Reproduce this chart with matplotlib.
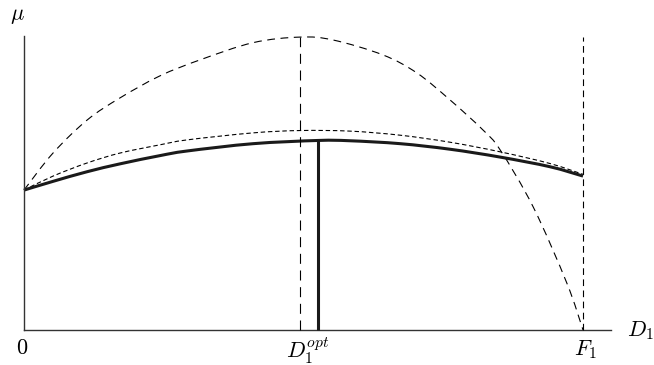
import matplotlib
matplotlib.use("Agg")
import matplotlib.pyplot as plt
from matplotlib.path import Path
from matplotlib.patches import PathPatch

plt.rcParams['mathtext.fontset'] = 'cm'
plt.rcParams['font.family'] = 'serif'
plt.rcParams['font.serif'] = ['DejaVu Serif']

# D1 measured in units of F1, mu normalised to the peak of the outer curve
d_outer = [0.0, 0.052, 0.113, 0.172, 0.243, 0.315, 0.410, 0.494, 0.553,
           0.642, 0.703, 0.762, 0.821, 0.852, 0.911, 0.971, 1.0]
mu_outer = [0.479, 0.606, 0.719, 0.795, 0.870, 0.925, 0.984, 1.003, 0.993,
            0.942, 0.880, 0.788, 0.685, 0.616, 0.421, 0.161, 0.0]

d_upper = [0.0, 0.052, 0.113, 0.172, 0.243, 0.292, 0.410, 0.494, 0.583,
           0.673, 0.762, 0.852, 0.941, 1.0]
mu_upper = [0.479, 0.527, 0.572, 0.606, 0.634, 0.651, 0.675, 0.683, 0.681,
            0.667, 0.643, 0.610, 0.570, 0.533]

d_mu = [0.0, 0.052, 0.113, 0.172, 0.243, 0.292, 0.410, 0.526, 0.583,
        0.673, 0.762, 0.852, 0.941, 1.0]
mu = [0.479, 0.509, 0.542, 0.569, 0.597, 0.613, 0.638, 0.649, 0.648,
      0.638, 0.619, 0.592, 0.559, 0.527]

d_peak = 0.494     # top of the outer curve
d_opt = 0.526      # maximiser of mu
F1 = 1.0


def smooth_path(xs, ys):
    # cubic bezier segments through the points (catmull-rom tangents)
    pts = list(zip(xs, ys))
    n = len(pts)
    verts = [pts[0]]
    codes = [Path.MOVETO]
    for i in range(n - 1):
        p0 = pts[max(i - 1, 0)]
        p1 = pts[i]
        p2 = pts[i + 1]
        p3 = pts[min(i + 2, n - 1)]
        c1 = (p1[0] + (p2[0] - p0[0]) / 6, p1[1] + (p2[1] - p0[1]) / 6)
        c2 = (p2[0] - (p3[0] - p1[0]) / 6, p2[1] - (p3[1] - p1[1]) / 6)
        verts += [c1, c2, p2]
        codes += [Path.CURVE4] * 3
    return Path(verts, codes)


fig = plt.figure(figsize=(6.54, 3.65), dpi=100)
ax = fig.add_axes([0, 0, 1, 1])
ax.set_xlim(-0.0429, 1.127)
ax.set_ylim(-0.1199, 1.130)
ax.axis('off')

# axes
ax.plot([0, 0], [0, 1.007], color='#333333', lw=1.0)
ax.plot([0, 1.05], [0, 0], color='#333333', lw=1.0)

ax.add_patch(PathPatch(smooth_path(d_outer, mu_outer), fill=False,
                       edgecolor='black', lw=0.8, linestyle=(0, (7, 5))))
ax.add_patch(PathPatch(smooth_path(d_upper, mu_upper), fill=False,
                       edgecolor='black', lw=0.8, linestyle=(0, (4, 2.5))))
ax.add_patch(PathPatch(smooth_path(d_mu, mu), fill=False,
                       edgecolor='#1a1a1a', lw=2.2, capstyle='butt'))

ax.plot([d_peak, d_peak], [0, max(mu_outer)], color='black', lw=0.8, dashes=(9, 6))
ax.plot([F1, F1], [0, 1.003], color='black', lw=0.8, dashes=(6, 4))
ax.plot([d_opt, d_opt], [0, max(mu)], color='#1a1a1a', lw=2.2, solid_capstyle='butt')

ax.text(-0.011, 1.079, r'$\mu$', fontsize=16, ha='center', va='center')
ax.text(-0.004, -0.062, r'$0$', fontsize=16, ha='center', va='center')
ax.text(0.508, -0.070, r'$D_1^{opt}$', fontsize=16, ha='center', va='center')
ax.text(1.004, -0.068, r'$F_1$', fontsize=16, ha='center', va='center')
ax.text(1.102, -0.003, r'$D_1$', fontsize=16, ha='center', va='center')

fig.savefig('out.png', dpi=100)
